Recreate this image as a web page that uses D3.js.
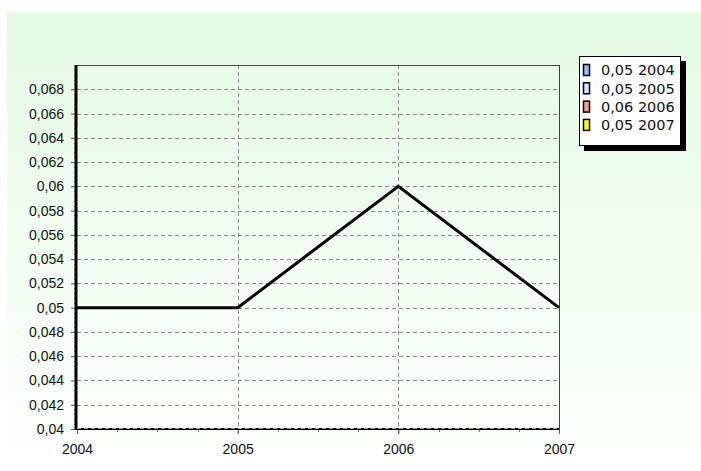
<!DOCTYPE html>
<html>
<head>
<meta charset="utf-8">
<script src="https://cdn.jsdelivr.net/npm/d3@7"></script>
<style>
  html, body { margin: 0; padding: 0; background: #ffffff; }
  svg { display: block; font-family: "DejaVu Sans", Verdana, sans-serif; }
</style>
</head>
<body>
<svg id="chart" width="701" height="471"></svg>
<script>
// Yearly values
const years = [2004, 2005, 2006, 2007];
const values = [0.05, 0.05, 0.06, 0.05];
const legendLabels = ["0,05 2004", "0,05 2005", "0,06 2006", "0,05 2007"];
const legendColors = ["#99bbff", "#d6e2ff", "#ff9a9a", "#ffff00"];
const yTicks = [0.04, 0.042, 0.044, 0.046, 0.048, 0.05, 0.052, 0.054, 0.056, 0.058, 0.06, 0.062, 0.064, 0.066, 0.068];

const svg = d3.select("#chart");
const W = 701, H = 471;
const m = { left: 77, top: 65, right: 559, bottom: 429 };

const fmt = v => d3.format(".3~f")(v).replace(".", ",");

// background panel with soft green gradient
const defs = svg.append("defs");
const grad = defs.append("linearGradient").attr("id", "bg").attr("x1", 0).attr("y1", 0).attr("x2", 0).attr("y2", 1);
grad.append("stop").attr("offset", "0%").attr("stop-color", "#e4fbe4");
grad.append("stop").attr("offset", "100%").attr("stop-color", "#ffffff");
svg.append("rect").attr("x", 7).attr("y", 12).attr("width", W - 7).attr("height", H - 12).attr("fill", "url(#bg)");

const x = d3.scaleLinear().domain([2004, 2007]).range([m.left, m.right]);
const y = d3.scaleLinear().domain([0.04, 0.07]).range([m.bottom, m.top]);

// horizontal grid
svg.append("g").selectAll("line").data(yTicks.filter(t => t > 0.04)).join("line")
  .attr("x1", m.left).attr("x2", m.right)
  .attr("y1", d => Math.round(y(d)) + 0.5).attr("y2", d => Math.round(y(d)) + 0.5)
  .attr("stroke", "#8a8a8a").attr("stroke-dasharray", "4,3");

// vertical grid
svg.append("g").selectAll("line").data(years.slice(1)).join("line")
  .attr("x1", d => Math.round(x(d)) + 0.5).attr("x2", d => Math.round(x(d)) + 0.5)
  .attr("y1", m.top).attr("y2", m.bottom + 4)
  .attr("stroke", "#8a8a8a").attr("stroke-dasharray", "4,3");

// top and right frame
svg.append("path")
  .attr("d", `M${m.left},${m.top + 0.5}H${m.right + 0.5}V${m.bottom}`)
  .attr("fill", "none").attr("stroke", "#404040").attr("stroke-width", 1);

// y axis
const yAxis = d3.axisLeft(y).tickValues(yTicks).tickFormat(fmt).tickSize(5).tickPadding(7);
const gy = svg.append("g").attr("transform", `translate(${m.left - 1},0)`).call(yAxis);
gy.select(".domain").remove();
gy.selectAll(".tick line").attr("stroke", "#555");
gy.selectAll("text").attr("font-size", 14).attr("fill", "#111");

// y minor ticks
const yMinor = d3.range(0.0404, 0.07, 0.0004).filter(v => Math.abs(v / 0.002 - Math.round(v / 0.002)) > 0.01);
svg.append("g").selectAll("line").data(yMinor).join("line")
  .attr("x1", m.left - 3).attr("x2", m.left - 1)
  .attr("y1", d => Math.round(y(d)) + 0.5).attr("y2", d => Math.round(y(d)) + 0.5)
  .attr("stroke", "#666");

// x axis
const xAxis = d3.axisBottom(x).tickValues(years).tickFormat(d3.format("d")).tickSize(5).tickPadding(10);
const gx = svg.append("g").attr("transform", `translate(0,${m.bottom})`).call(xAxis);
gx.select(".domain").remove();
gx.selectAll(".tick line").attr("stroke", "#555");
gx.selectAll("text").attr("font-size", 14).attr("fill", "#111");

// x minor ticks at quarters
const xMinor = d3.range(2004.25, 2007, 0.25).filter(v => v % 1 !== 0);
svg.append("g").selectAll("line").data(xMinor).join("line")
  .attr("x1", d => Math.round(x(d)) + 0.5).attr("x2", d => Math.round(x(d)) + 0.5)
  .attr("y1", m.bottom).attr("y2", m.bottom + 3)
  .attr("stroke", "#777");

// thick axis lines
svg.append("line").attr("x1", m.left - 1).attr("x2", m.left - 1).attr("y1", m.top).attr("y2", m.bottom + 1)
  .attr("stroke", "#000").attr("stroke-width", 3);
svg.append("line").attr("x1", m.left - 1).attr("x2", m.right).attr("y1", m.bottom).attr("y2", m.bottom)
  .attr("stroke", "#000").attr("stroke-width", 2);
svg.append("line").attr("x1", m.left).attr("x2", m.right).attr("y1", m.bottom - 0.5).attr("y2", m.bottom - 0.5)
  .attr("stroke", "#9a9a9a").attr("stroke-dasharray", "4,3");

// data line
const line = d3.line().x((d, i) => x(years[i])).y(d => y(d));
svg.append("path").datum(values).attr("d", line)
  .attr("fill", "none").attr("stroke", "#000").attr("stroke-width", 3).attr("stroke-linejoin", "miter");

// legend
const lg = svg.append("g").attr("transform", "translate(579,56)");
lg.append("rect").attr("x", 5).attr("y", 5).attr("width", 102).attr("height", 90).attr("fill", "#000");
lg.append("rect").attr("x", 0.5).attr("y", 0.5).attr("width", 101).attr("height", 89)
  .attr("fill", "#fff").attr("stroke", "#000");
const items = lg.selectAll("g.item").data(legendLabels).join("g").attr("class", "item")
  .attr("transform", (d, i) => `translate(0,${14 + i * 18.3})`);
items.append("rect").attr("x", 4.5).attr("y", -5.5).attr("width", 6).attr("height", 11)
  .attr("fill", (d, i) => legendColors[i]).attr("stroke", "#000").attr("stroke-width", 1.5);
items.append("text").attr("x", 22).attr("y", 0).attr("dy", "0.36em")
  .attr("font-size", 14.5).attr("fill", "#111").text(d => d);
</script>
</body>
</html>
